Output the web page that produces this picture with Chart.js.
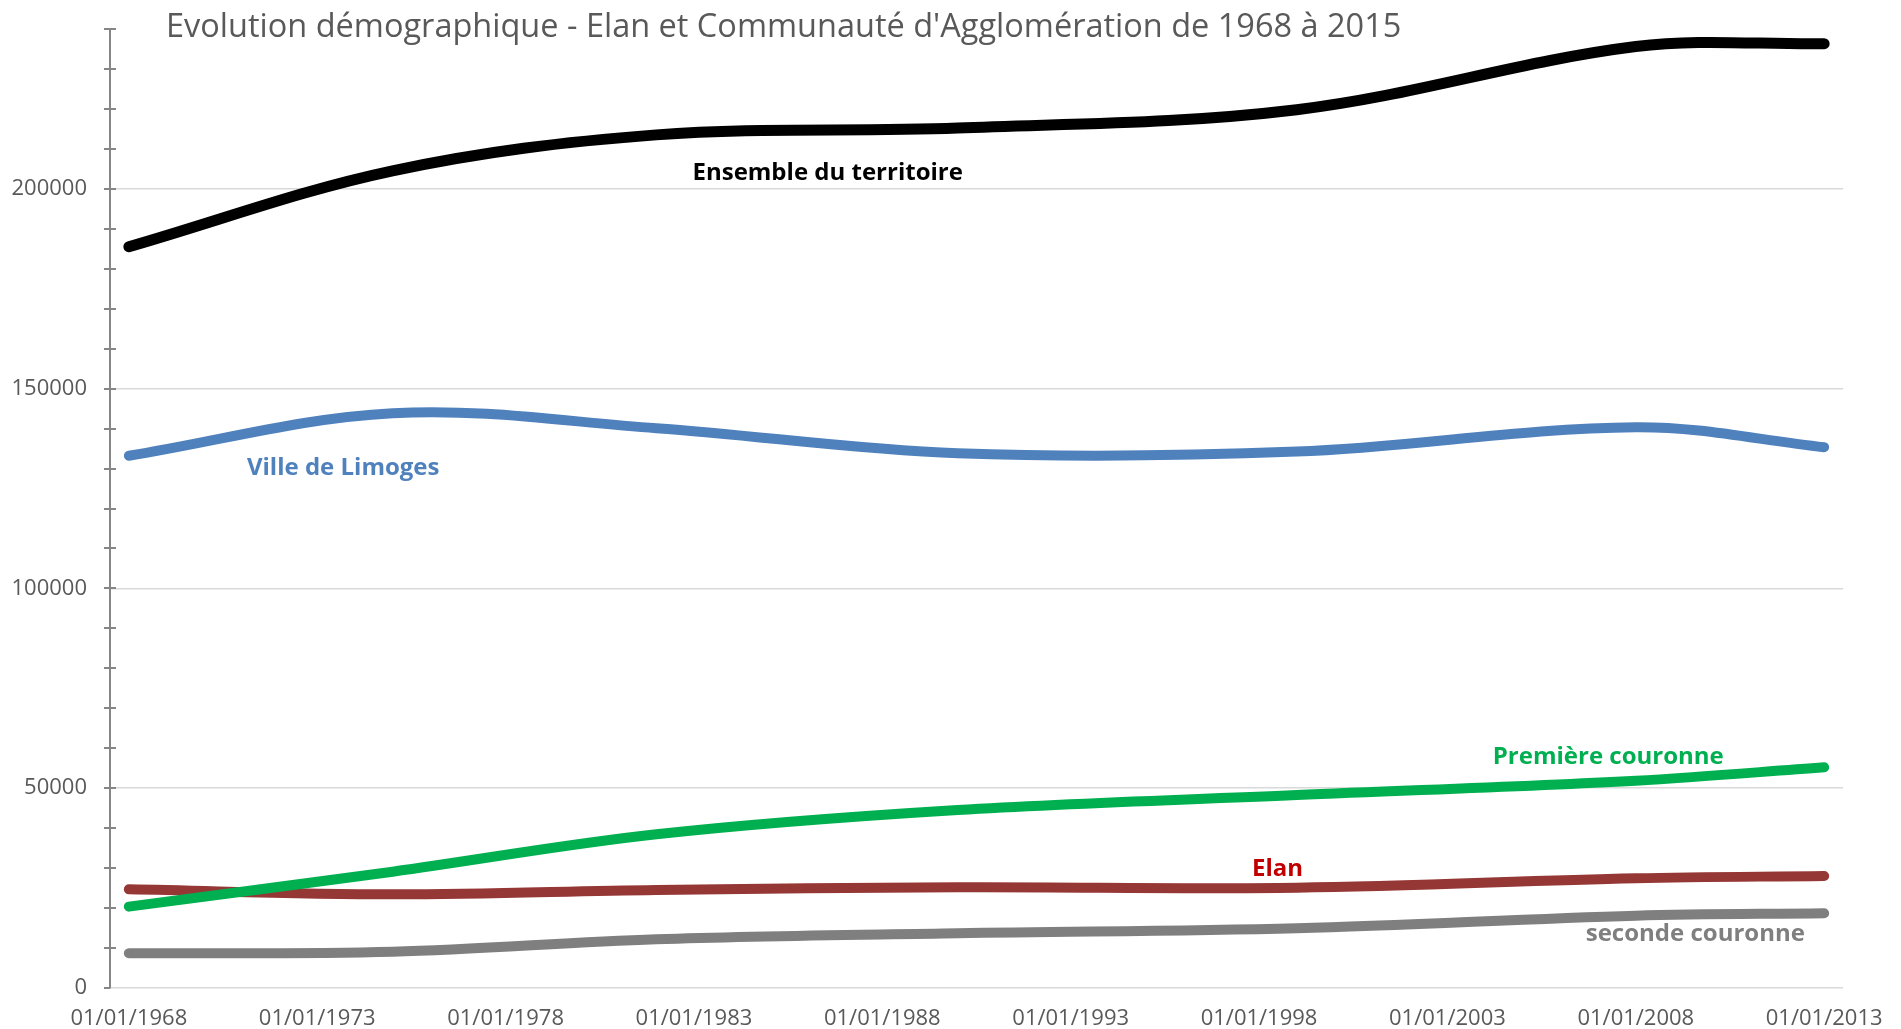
<!DOCTYPE html>
<html>
<head>
<meta charset="utf-8">
<script src="https://cdn.jsdelivr.net/npm/chart.js@4/dist/chart.umd.min.js"></script>
<style>
  html, body { margin: 0; padding: 0; background: #ffffff; }
  #c { display: block; }
</style>
</head>
<body>
<canvas id="c" width="1901" height="1029"></canvas>
<script>
// ---- Data ----
const years = [1968, 1975, 1982, 1990, 1999, 2008, 2013];
const ensembleTerritoire = [185500, 204500, 213500, 215200, 219800, 235600, 236300];
const villeLimoges = [133200, 143850, 140100, 133830, 134240, 140340, 135340];
const premiereCouronne = [20360, 29110, 38470, 44550, 48300, 51890, 55240];
const elanValues = [24700, 23450, 24530, 25200, 25100, 27460, 28030];
const secondeCouronne = [8680, 9090, 12190, 13690, 14940, 18100, 18700];
const seriesNames = ['Ensemble du territoire', 'Ville de Limoges', 'Première couronne', 'Elan', 'seconde couronne'];
const xTickYears = [1968, 1973, 1978, 1983, 1988, 1993, 1998, 2003, 2008, 2013];
const yMajorStep = 50000;
const yMinorStep = 10000;
const yMax = 240000;
const titleText = "Evolution démographique - Elan et Communauté d'Agglomération de 1968 à 2015";

// ---- Styling / layout ----
const colors = {
  ensemble: '#000000',
  limoges: '#4F81BD',
  premiere: '#00B050',
  elan: '#953735',
  seconde: '#7F7F7F'
};
const FONT = "'Open Sans', 'Liberation Sans', sans-serif";

function toPoints(vals) { return years.map((y, i) => ({ x: y, y: vals[i] })); }

function lineDs(label, vals, color, width) {
  return {
    label: label,
    data: toPoints(vals),
    borderColor: color,
    backgroundColor: color,
    borderWidth: width,
    borderCapStyle: 'round',
    borderJoinStyle: 'round',
    pointRadius: 0,
    pointHoverRadius: 0,
    tension: 0.35,
    fill: false
  };
}

// Series labels drawn near the lines, anchored in data coordinates
const labelPlugin = {
  id: 'seriesLabels',
  afterDatasetsDraw(chart) {
    const { ctx, scales: { x, y } } = chart;
    const items = [
      { text: seriesNames[0], yr: 1986.55, v: 204000, color: '#000000' },
      { text: seriesNames[1], yr: 1973.69, v: 130160, color: '#4F81BD' },
      { text: seriesNames[2], yr: 2007.27, v: 57820, color: '#00B050' },
      { text: seriesNames[3], yr: 1998.49, v: 29790, color: '#C00000' },
      { text: seriesNames[4], yr: 2009.58, v: 13520, color: '#7F7F7F' }
    ];
    ctx.save();
    ctx.font = "bold 24px " + FONT;
    ctx.textAlign = 'center';
    ctx.textBaseline = 'middle';
    items.forEach(it => {
      ctx.fillStyle = it.color;
      ctx.fillText(it.text, x.getPixelForValue(it.yr), y.getPixelForValue(it.v));
    });
    ctx.restore();
  }
};

// Title drawn inside the top of the chart, as in the reference
const titlePlugin = {
  id: 'topTitle',
  afterDraw(chart) {
    const ctx = chart.ctx;
    ctx.save();
    ctx.font = "32.5px " + FONT;
    ctx.fillStyle = '#595959';
    ctx.textAlign = 'left';
    ctx.textBaseline = 'alphabetic';
    ctx.fillText(titleText, 166, 37);
    ctx.restore();
  }
};

// Cross-style tick marks on the vertical axis
const crossTicks = {
  id: 'crossTicks',
  afterDraw(chart) {
    const { ctx, scales: { y }, chartArea } = chart;
    ctx.save();
    ctx.strokeStyle = '#868686';
    ctx.lineWidth = 2;
    y.ticks.forEach(t => {
      const py = Math.round(y.getPixelForValue(t.value));
      ctx.beginPath();
      ctx.moveTo(chartArea.left - 6, py);
      ctx.lineTo(chartArea.left + (t.value === 0 ? 0 : 6), py);
      ctx.stroke();
    });
    ctx.restore();
  }
};

Chart.defaults.font.family = FONT;

new Chart(document.getElementById('c'), {
  type: 'line',
  data: {
    datasets: [
      lineDs(seriesNames[0], ensembleTerritoire, colors.ensemble, 11),
      lineDs(seriesNames[1], villeLimoges, colors.limoges, 10),
      lineDs(seriesNames[2], premiereCouronne, colors.premiere, 10),
      lineDs(seriesNames[3], elanValues, colors.elan, 10),
      lineDs(seriesNames[4], secondeCouronne, colors.seconde, 10)
    ]
  },
  options: {
    responsive: false,
    animation: false,
    devicePixelRatio: 1,
    layout: { padding: { top: 29, right: 58, left: 0, bottom: 0 } },
    plugins: {
      legend: { display: false },
      title: { display: false },
      tooltip: { enabled: false }
    },
    scales: {
      x: {
        type: 'linear',
        min: 1967.5,
        max: 2013.5,
        afterBuildTicks(scale) {
          scale.ticks = xTickYears.map(v => ({ value: v }));
        },
        afterFit(scale) { scale.height = 41; scale.paddingLeft = 0; scale.paddingRight = 0; },
        grid: { display: false, drawTicks: false },
        border: { display: false },
        ticks: {
          autoSkip: false,
          maxRotation: 0,
          padding: 18,
          color: '#595959',
          font: { size: 22 },
          callback: v => '01/01/' + v
        }
      },
      y: {
        type: 'linear',
        min: 0,
        max: yMax,
        afterFit(scale) { scale.width = 110; scale.paddingTop = 0; scale.paddingBottom = 0; },
        grid: {
          drawTicks: false,
          lineWidth: 1.5,
          color: c => (c.tick && c.tick.value % yMajorStep === 0) ? '#D9D9D9' : 'rgba(0,0,0,0)'
        },
        border: { display: true, color: '#868686', width: 2 },
        ticks: {
          stepSize: yMinorStep,
          autoSkip: false,
          padding: 23,
          color: '#595959',
          font: { size: 22 },
          callback: v => (v % yMajorStep === 0) ? String(v) : ''
        }
      }
    }
  },
  plugins: [labelPlugin, titlePlugin, crossTicks]
});
</script>
</body>
</html>
